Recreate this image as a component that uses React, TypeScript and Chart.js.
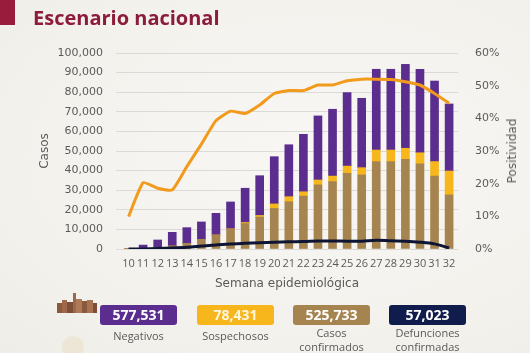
import React, { useEffect, useRef } from "react";
import { Chart, registerables } from "chart.js";

Chart.register(...registerables);

const weeks = [10, 11, 12, 13, 14, 15, 16, 17, 18, 19, 20, 21, 22, 23, 24, 25, 26, 27, 28, 29, 30, 31, 32];
const confirmados = [20, 300, 800, 1500, 2900, 4900, 7000, 10000, 13000, 16300, 20700, 24100, 27000, 32700, 34400, 38600, 37800, 44600, 44600, 45700, 43400, 37200, 27600];
const sospechosos = [0, 0, 0, 0, 0, 0, 200, 300, 500, 800, 2300, 2600, 2200, 2500, 2800, 3700, 3700, 5900, 5900, 5700, 5700, 7400, 12200];
const negativos = [80, 1700, 3800, 7000, 8000, 8900, 11000, 13700, 17500, 20300, 24100, 26500, 29300, 32700, 34100, 37500, 35400, 41200, 41200, 42800, 42600, 41100, 34200];
const defunciones = [0, 50, 200, 500, 900, 1500, 2100, 2500, 2900, 3200, 3500, 3700, 3800, 4100, 4100, 4000, 4000, 4500, 4200, 4000, 3500, 2600, 500];
const positividad = [9.9, 20.3, 18.6, 18.1, 25.2, 32.1, 39.3, 42.2, 41.5, 44.1, 47.6, 48.5, 48.5, 50.2, 50.2, 51.5, 52.0, 52.0, 51.9, 51.2, 50.2, 47.6, 44.6];
const casosTicks = [0, 10000, 20000, 30000, 40000, 50000, 60000, 70000, 80000, 90000, 100000];
const positividadTicks = [0, 10, 20, 30, 40, 50, 60];

const totals = [
  { value: "577,531", label: ["Negativos"], color: "#5b2d8e" },
  { value: "78,431", label: ["Sospechosos"], color: "#f6b61c" },
  { value: "525,733", label: ["Casos", "confirmados"], color: "#a6844f" },
  { value: "57,023", label: ["Defunciones", "confirmadas"], color: "#101c4c" },
];

const PURPLE = "#5b2d8e";
const YELLOW = "#f6b61c";
const BROWN = "#a6844f";
const NAVY = "#0e1433";
const ORANGE = "#f29a1c";
const TICK = "#5a5a5a";
const FONT = '"DejaVu Sans", sans-serif';
const FONT2 = '"Open Sans", sans-serif';

const fmt = (v: number) => String(v).replace(/\B(?=(\d{3})+(?!\d))/g, ",");
const pts = (arr: number[]) => weeks.map((w, i) => ({ x: w, y: arr[i] }));

export default function App() {
  const ref = useRef<HTMLCanvasElement>(null);

  useEffect(() => {
    const chart = new Chart(ref.current as HTMLCanvasElement, {
      type: "bar",
      data: {
        datasets: [
          {
            type: "line",
            label: "Positividad",
            data: pts(positividad),
            yAxisID: "y1",
            borderColor: ORANGE,
            borderWidth: 3,
            pointRadius: 0,
            tension: 0.15,
            order: 0,
            stack: "pos",
          } as any,
          {
            type: "line",
            label: "Defunciones",
            data: pts(defunciones),
            yAxisID: "y",
            borderColor: NAVY,
            borderWidth: 3,
            pointRadius: 0,
            tension: 0.3,
            order: 1,
            stack: "def",
          } as any,
          {
            label: "Confirmados",
            data: pts(confirmados),
            backgroundColor: BROWN,
            barThickness: 8,
            yAxisID: "y",
            stack: "casos",
            order: 2,
          },
          {
            label: "Sospechosos",
            data: pts(sospechosos),
            backgroundColor: YELLOW,
            barThickness: 8,
            yAxisID: "y",
            stack: "casos",
            order: 2,
          },
          {
            label: "Negativos",
            data: pts(negativos),
            backgroundColor: PURPLE,
            barThickness: 8,
            yAxisID: "y",
            stack: "casos",
            order: 2,
          },
        ],
      },
      options: {
        animation: false,
        responsive: true,
        maintainAspectRatio: false,
        layout: { padding: { left: 34, right: 0, top: 53, bottom: 0 } },
        plugins: { legend: { display: false }, tooltip: { enabled: false } },
        scales: {
          x: {
            type: "linear",
            min: 9.65,
            max: 32.1,
            stacked: true,
            grid: { display: false, drawTicks: false },
            border: { display: false },
            afterBuildTicks: (s: any) => {
              s.ticks = weeks.map((v) => ({ value: v }));
            },
            afterFit: (s: any) => {
              s.height = 51;
            },
            ticks: {
              autoSkip: false,
              maxRotation: 0,
              minRotation: 0,
              padding: 8,
              color: TICK,
              font: { size: 11, family: FONT2 },
              callback: (v: any) => String(v),
            },
            title: {
              display: true,
              text: "Semana epidemiológica",
              color: TICK,
              font: { size: 12, family: FONT },
              padding: { top: 0, bottom: 9 },
            },
          },
          y: {
            position: "left",
            stacked: true,
            min: 0,
            max: 100000,
            afterBuildTicks: (s: any) => {
              s.ticks = casosTicks.map((v) => ({ value: v }));
            },
            afterFit: (s: any) => {
              s.width = 82;
            },
            grid: { color: "#dcdad6", lineWidth: 1, drawTicks: false },
            border: { display: false },
            ticks: {
              padding: 13,
              color: TICK,
              font: { size: 11, family: FONT },
              callback: (v: any) => fmt(Number(v)),
            },
            title: {
              display: true,
              text: "Casos",
              color: TICK,
              font: { size: 12, family: FONT },
              padding: { top: 4, bottom: 4 },
            },
          },
          y1: {
            position: "right",
            min: 0,
            max: 60,
            afterBuildTicks: (s: any) => {
              s.ticks = positividadTicks.map((v) => ({ value: v }));
            },
            afterFit: (s: any) => {
              s.width = 72;
            },
            grid: { display: false, drawTicks: false },
            border: { display: false },
            ticks: {
              padding: 17,
              color: TICK,
              font: { size: 11, family: FONT },
              callback: (v: any) => v + "%",
            },
          },
        },
      } as any,
    });
    return () => chart.destroy();
  }, []);

  return (
    <div
      style={{
        position: "fixed",
        left: 0,
        top: 0,
        width: 530,
        height: 353,
        overflow: "hidden",
        background: "radial-gradient(ellipse at 60% 45%, #f8f7f4 0%, #f3f1ec 70%, #efede7 100%)",
        fontFamily: '"Open Sans", sans-serif',
      }}
    >
      <div style={{ position: "absolute", left: 0, top: 0, width: 15, height: 25, background: "#9a1c3c" }} />
      <div
        style={{
          position: "absolute",
          left: 33,
          top: 5,
          fontSize: 20,
          fontWeight: 700,
          color: "#8d1b3a",
          whiteSpace: "nowrap",
          lineHeight: "26px",
        }}
      >
        Escenario nacional
      </div>
      <div style={{ position: "absolute", left: 0, top: 0, width: 530, height: 300 }}>
        <canvas ref={ref} />
      </div>
      <div
        style={{
          position: "absolute",
          left: 512,
          top: 151,
          transform: "translate(-50%, -50%) rotate(-90deg)",
          fontFamily: FONT,
          fontSize: 12,
          color: TICK,
          whiteSpace: "nowrap",
        }}
      >
        Positividad
      </div>
      <svg style={{ position: "absolute", left: 56, top: 291 }} width="42" height="24" viewBox="0 0 42 24">
        <rect x="1" y="12" width="6" height="10" fill="#8a5a3c" />
        <rect x="6" y="9" width="5" height="13" fill="#a0684a" />
        <rect x="11" y="11" width="6" height="11" fill="#7e4f36" />
        <rect x="17" y="2" width="3" height="20" fill="#9b6a4c" />
        <rect x="20" y="8" width="6" height="14" fill="#b07a58" />
        <rect x="26" y="10" width="5" height="12" fill="#8a5a3c" />
        <rect x="31" y="9" width="6" height="13" fill="#a87352" />
        <rect x="37" y="12" width="4" height="10" fill="#7e4f36" />
      </svg>
      <div
        style={{
          position: "absolute",
          left: 62,
          top: 336,
          width: 22,
          height: 22,
          borderRadius: "50%",
          background: "#ece3d2",
          opacity: 0.8,
        }}
      />
      {totals.map((t, i) => {
        const left = [100, 197, 293, 389][i];
        return (
          <div key={t.value} style={{ position: "absolute", left, top: 305, width: 77 }}>
            <div
              style={{
                height: 20,
                borderRadius: 3,
                background: t.color,
                color: i === 1 ? "#fff6dc" : "#ffffff",
                fontWeight: 700,
                fontSize: 14,
                lineHeight: "20px",
                textAlign: "center",
              }}
            >
              {t.value}
            </div>
            <div
              style={{
                marginTop: t.label.length > 1 ? 1 : 4,
                fontSize: 11,
                lineHeight: "14px",
                color: "#5a5a5a",
                textAlign: "center",
                whiteSpace: "nowrap",
              }}
            >
              {t.label.map((l) => (
                <div key={l}>{l}</div>
              ))}
            </div>
          </div>
        );
      })}
    </div>
  );
}
